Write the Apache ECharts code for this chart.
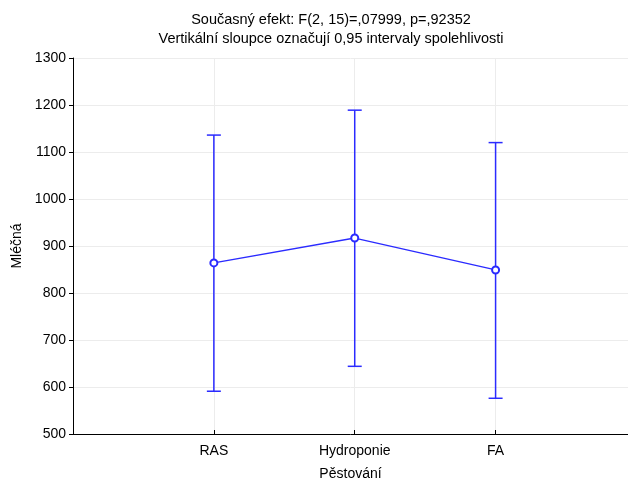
<!DOCTYPE html>
<html><head><meta charset="utf-8">
<script src="https://cdn.jsdelivr.net/npm/echarts@6/dist/echarts.min.js"></script>
<style>html,body{margin:0;padding:0;background:#fff}#c{width:628px;height:481px}</style>
</head><body><div id="c"></div>
<script>
var categories = ['RAS', 'Hydroponie', 'FA'];
var means = [864, 917, 849];
var lower = [591, 644, 576];
var upper = [1136, 1189, 1120];
var yTicks = [500, 600, 700, 800, 900, 1000, 1100, 1200, 1300];

var blue = '#2b2bff';
var font = 'Liberation Sans, Arial';
var chart = echarts.init(document.getElementById('c'));
var meanData = means.map(function (v, i) { return [i + 1, v]; });
var errData = categories.map(function (c, i) { return [i + 1, lower[i], upper[i]]; });

chart.setOption({
  animation: false,
  title: {
    text: 'Současný efekt: F(2, 15)=,07999, p=,92352\nVertikální sloupce označují 0,95 intervaly spolehlivosti',
    left: 326, top: 5, textAlign: 'center',
    textStyle: { fontFamily: font, fontSize: 14.5, fontWeight: 'normal', color: '#000', lineHeight: 19 }
  },
  grid: { left: 73, right: 0, top: 58, bottom: 47, containLabel: false, outerBoundsMode: 'none' },
  xAxis: {
    type: 'value', min: 0, max: 3.94, interval: 1,
    name: 'Pěstování', nameLocation: 'middle', nameGap: 33,
    nameTextStyle: { fontFamily: font, fontSize: 14, color: '#000' },
    axisLine: { show: true, lineStyle: { color: '#000', width: 1 } },
    axisTick: { show: true, inside: true, length: 4, lineStyle: { color: '#000' } },
    axisLabel: {
      fontFamily: font, fontSize: 14, color: '#000', margin: 10,
      showMaxLabel: false, showMinLabel: false,
      formatter: function (v) { var i = Math.round(v) - 1; return (Math.abs(v - Math.round(v)) < 1e-6 && categories[i]) ? categories[i] : ''; }
    },
    splitLine: { show: true, lineStyle: { color: '#ececec', width: 1 } }
  },
  yAxis: {
    type: 'value', min: yTicks[0], max: yTicks[yTicks.length - 1], interval: 100,
    name: 'Mléčná', nameLocation: 'middle', nameGap: 49,
    nameTextStyle: { fontFamily: font, fontSize: 14, color: '#000' },
    axisLine: { show: true, lineStyle: { color: '#000', width: 1 } },
    axisTick: { show: true, length: 4, lineStyle: { color: '#000' } },
    axisLabel: { fontFamily: font, fontSize: 14, color: '#000', margin: 7, formatter: function (v) { return String(v); } },
    splitLine: { show: true, lineStyle: { color: '#ececec', width: 1 } }
  },
  series: [
    {
      type: 'custom',
      data: errData,
      renderItem: function (params, api) {
        var x = api.value(0);
        var lo = api.coord([x, api.value(1)]);
        var hi = api.coord([x, api.value(2)]);
        var w = 7;
        var st = { stroke: blue, lineWidth: 1.5 };
        return {
          type: 'group',
          children: [
            { type: 'line', shape: { x1: lo[0], y1: lo[1], x2: hi[0], y2: hi[1] }, style: st },
            { type: 'line', shape: { x1: lo[0] - w, y1: lo[1], x2: lo[0] + w, y2: lo[1] }, style: st },
            { type: 'line', shape: { x1: hi[0] - w, y1: hi[1], x2: hi[0] + w, y2: hi[1] }, style: st }
          ]
        };
      },
      z: 2
    },
    {
      type: 'line',
      data: meanData,
      symbol: 'emptyCircle', symbolSize: 7,
      lineStyle: { color: blue, width: 1.3 },
      itemStyle: { color: blue, borderColor: blue, borderWidth: 1.3 },
      z: 3
    }
  ]
});
</script>
</body></html>
